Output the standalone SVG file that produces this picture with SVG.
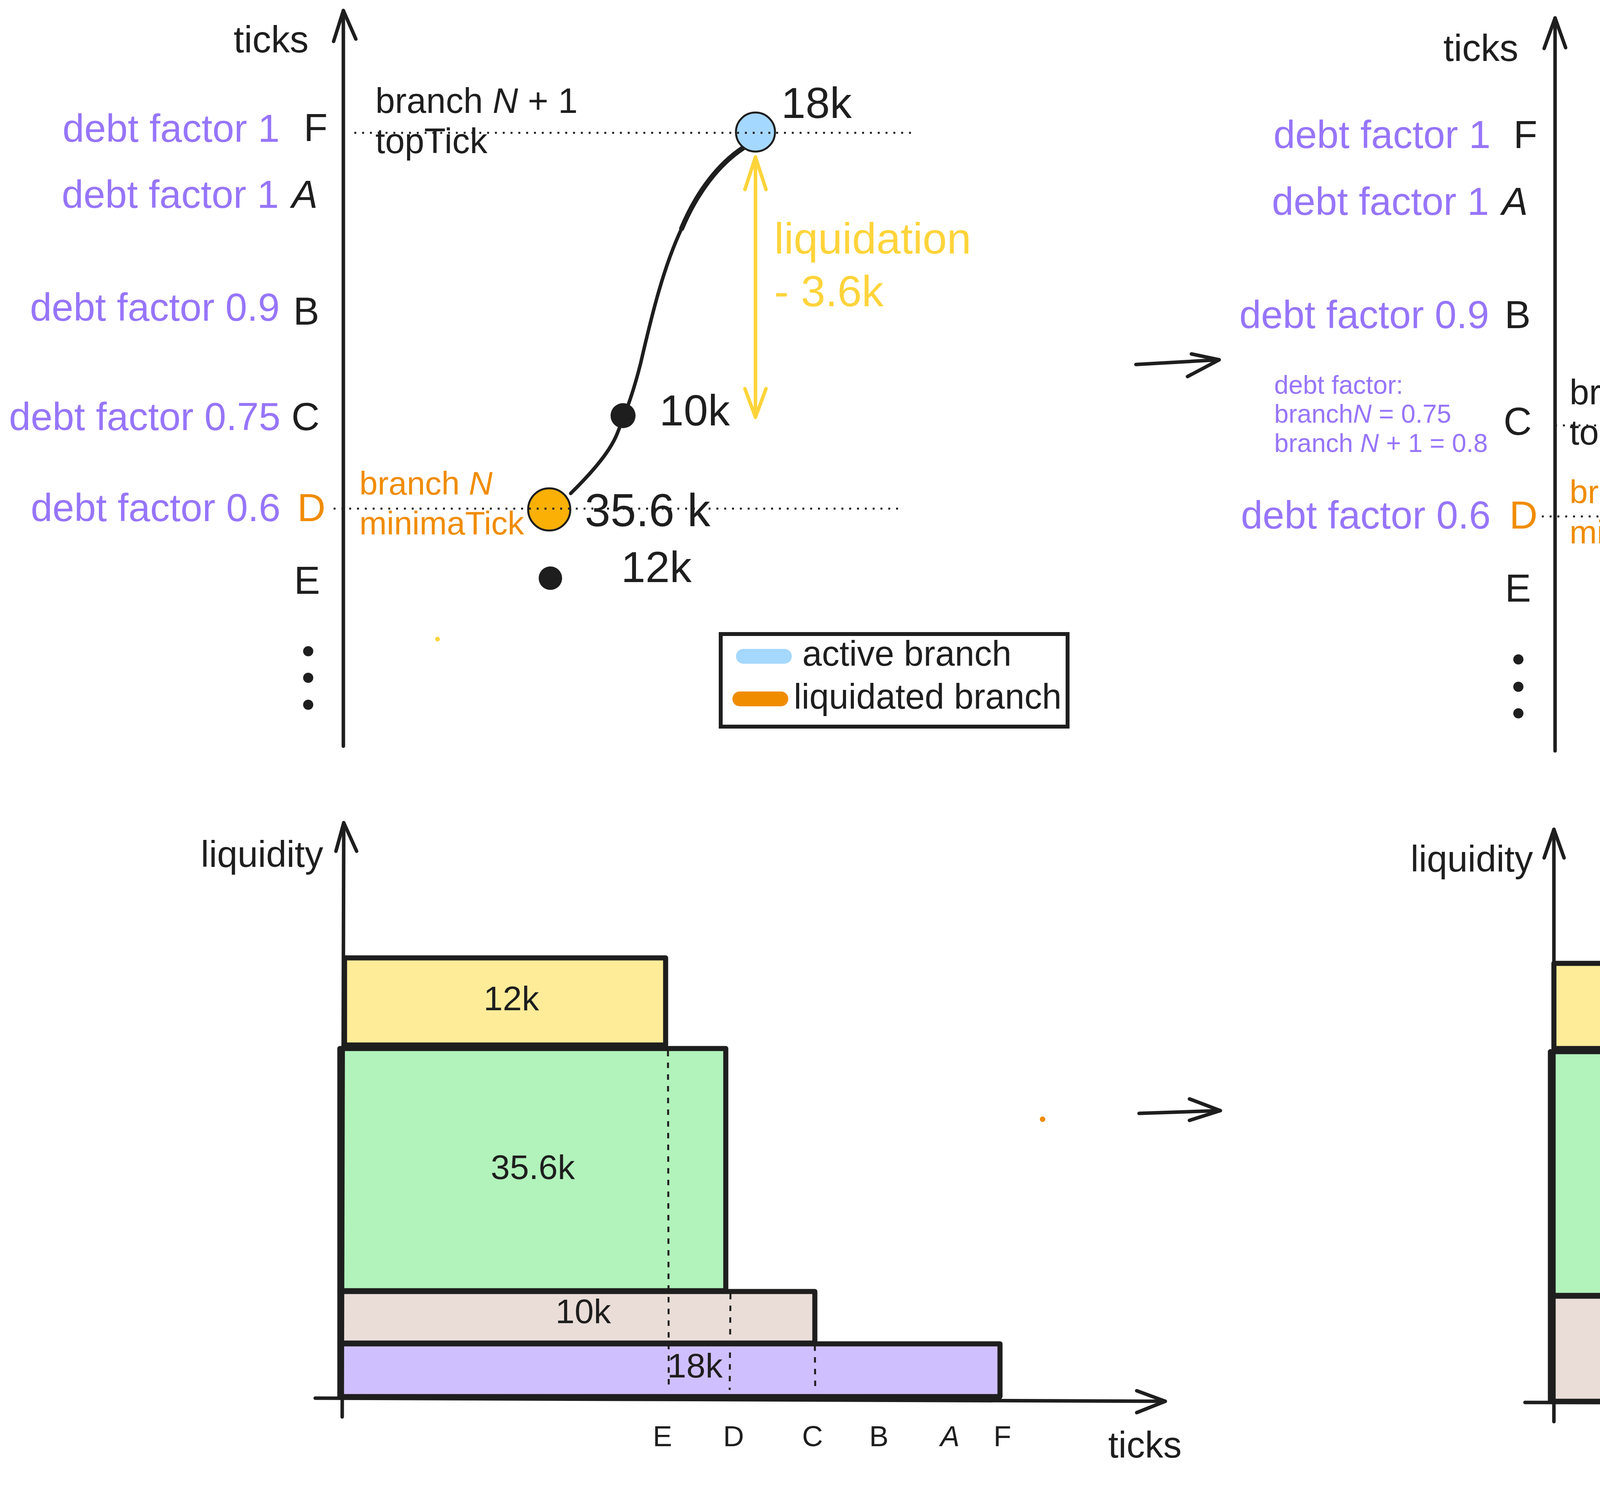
<svg xmlns="http://www.w3.org/2000/svg" width="6160" height="3809" viewBox="0 0 6160 3809">
<style>
text{font-family:"Liberation Sans","DejaVu Sans",sans-serif;fill:#1e1e1e}
.pur{fill:#9775fa}
.org{fill:#f08c00}
.yel{fill:#ffd43b}
.ax{stroke:#1e1e1e;stroke-width:9;fill:none;stroke-linecap:round;stroke-linejoin:round}
.dot{stroke:#1e1e1e;stroke-width:5;stroke-dasharray:5 15;fill:none}
.dash{stroke:#1e1e1e;stroke-width:5;stroke-dasharray:14 16;fill:none}
.box{stroke:#1e1e1e;stroke-width:13;stroke-linejoin:round}
.leg{fill:#fff;stroke:#1e1e1e;stroke-width:10}
.pill{stroke-width:38;stroke-linecap:round}
.nd{stroke:#1e1e1e;stroke-width:5}
.lbl{font-size:100px}
.big{font-size:112px}
.mid{font-size:90px}
.sm{font-size:66px}
.tk{font-size:74px;text-anchor:middle}
.bx{font-size:88px;text-anchor:middle}
</style>
<rect width="6160" height="3809" fill="#fff"/>

<!-- ===== Top-left panel ===== -->
<g id="tl-axis">
<line class="ax" x1="879" y1="1910" x2="879" y2="27"/>
<polyline class="ax" points="854,106 879,27 911,100"/>
<text x="598" y="134" style="font-size:96px">ticks</text>
</g>
<g id="tl-labels">
<text class="lbl pur" x="716" y="363" text-anchor="end">debt factor 1</text>
<text class="lbl pur" x="714" y="532" text-anchor="end">debt factor 1</text>
<text class="lbl pur" x="716" y="821" text-anchor="end">debt factor 0.9</text>
<text class="lbl pur" x="718" y="1101" text-anchor="end">debt factor 0.75</text>
<text class="lbl pur" x="718" y="1334" text-anchor="end">debt factor 0.6</text>
<text class="lbl" x="808" y="361" text-anchor="middle">F</text>
<text class="lbl" x="780" y="532" text-anchor="middle" font-style="italic">A</text>
<text class="lbl" x="784" y="831" text-anchor="middle">B</text>
<text class="lbl" x="782" y="1101" text-anchor="middle">C</text>
<text class="lbl org" x="797" y="1334" text-anchor="middle">D</text>
<text class="lbl" x="786" y="1520" text-anchor="middle">E</text>
<circle cx="789" cy="1667" r="13" fill="#1e1e1e"/>
<circle cx="789" cy="1735" r="13" fill="#1e1e1e"/>
<circle cx="789" cy="1804" r="13" fill="#1e1e1e"/>
</g>
<g id="tl-connectors">
<path class="ax" d="M1461,1263 C1510,1215 1560,1160 1580,1110 C1600,1060 1620,1010 1640,930 C1670,800 1700,680 1745,585 C1785,490 1840,420 1902,379" stroke-width="6"/>
<path d="M1745,585 C1785,490 1840,420 1902,379" fill="none" stroke="#1e1e1e" stroke-width="13" stroke-linecap="round"/>
<line x1="1934" y1="402" x2="1934" y2="1068" stroke="#ffd43b" stroke-width="9" stroke-linecap="round"/>
<polyline points="1907,485 1934,402 1961,485" fill="none" stroke="#ffd43b" stroke-width="9" stroke-linecap="round" stroke-linejoin="round"/>
<polyline points="1907,995 1934,1068 1961,995" fill="none" stroke="#ffd43b" stroke-width="9" stroke-linecap="round" stroke-linejoin="round"/>
</g>
<g id="tl-branch-n1">
<circle class="nd" cx="1934" cy="338" r="50" fill="#a5d8ff"/>
<text class="mid" x="961" y="289">branch <tspan font-style="italic">N</tspan> + 1</text>
<text class="mid" x="961" y="392">topTick</text>
<text class="big" x="2000" y="302">18k</text>
</g>
<g id="tl-c">
<circle cx="1595" cy="1064" r="32" fill="#1e1e1e"/>
<text class="big" x="1688" y="1089">10k</text>
</g>
<g id="tl-branch-n">
<circle class="nd" cx="1406" cy="1304" r="54" fill="#fab005"/>
<text class="org" x="920" y="1266" style="font-size:84px">branch <tspan font-style="italic">N</tspan></text>
<text class="org" x="920" y="1368" style="font-size:84px">minimaTick</text>
<text x="1497" y="1347" style="font-size:118px">35.6 k</text>
</g>
<g id="tl-e">
<circle cx="1409" cy="1480" r="30" fill="#1e1e1e"/>
<text class="big" x="1590" y="1490">12k</text>
</g>
<line class="dot" x1="907" y1="340" x2="2343" y2="340"/>
<line class="dot" x1="854" y1="1302" x2="2313" y2="1302"/>
<g id="tl-liquidation">
<text class="big yel" x="1982" y="649">liquidation</text>
<text class="big yel" x="1982" y="784">- 3.6k</text>
</g>
<circle cx="1120" cy="1636" r="6" fill="#ffd43b"/>
<g id="tl-legend">
<rect class="leg" x="1845" y="1623" width="888" height="237"/>
<line class="pill" x1="1903" y1="1680" x2="2008" y2="1680" stroke="#a5d8ff"/>
<line class="pill" x1="1894" y1="1789" x2="1999" y2="1789" stroke="#f08c00"/>
<text class="mid" x="2054" y="1704">active branch</text>
<text class="mid" x="2032" y="1814">liquidated branch</text>
</g>

<!-- arrows between panels -->
<g id="panel-arrows">
<line class="ax" x1="2908" y1="933" x2="3121" y2="921"/>
<polyline class="ax" points="3050,906 3121,921 3040,964"/>
<line class="ax" x1="2916" y1="2850" x2="3124" y2="2843"/>
<polyline class="ax" points="3045,2813 3124,2843 3045,2868"/>
</g>

<!-- ===== Top-right panel ===== -->
<g id="tr-axis">
<line class="ax" x1="3981" y1="1922" x2="3981" y2="46"/>
<polyline class="ax" points="3953,124 3981,46 4008,122"/>
<text x="3695" y="156" style="font-size:96px">ticks</text>
</g>
<g id="tr-labels">
<text class="lbl pur" x="3816" y="379" text-anchor="end">debt factor 1</text>
<text class="lbl pur" x="3812" y="550" text-anchor="end">debt factor 1</text>
<text class="lbl pur" x="3812" y="840" text-anchor="end">debt factor 0.9</text>
<text class="lbl pur" x="3816" y="1353" text-anchor="end">debt factor 0.6</text>
<text class="sm pur" x="3262" y="1008">debt factor:</text>
<text class="sm pur" x="3262" y="1082">branch<tspan font-style="italic">N</tspan> = 0.75</text>
<text class="sm pur" x="3262" y="1157">branch <tspan font-style="italic">N</tspan> + 1 = 0.8</text>
<text class="lbl" x="3905" y="379" text-anchor="middle">F</text>
<text class="lbl" x="3878" y="550" text-anchor="middle" font-style="italic">A</text>
<text class="lbl" x="3885" y="840" text-anchor="middle">B</text>
<text class="lbl" x="3885" y="1113" text-anchor="middle">C</text>
<text class="lbl org" x="3900" y="1353" text-anchor="middle">D</text>
<text class="lbl" x="3886" y="1540" text-anchor="middle">E</text>
<circle cx="3887" cy="1688" r="13" fill="#1e1e1e"/>
<circle cx="3887" cy="1758" r="13" fill="#1e1e1e"/>
<circle cx="3887" cy="1826" r="13" fill="#1e1e1e"/>
</g>
<g id="tr-connectors">
<path d="M4564,1281 C4588,1235 4598,1180 4622,1152 C4636,1136 4648,1130 4662,1126" fill="none" stroke="#1e1e1e" stroke-width="12" stroke-linecap="round"/>
</g>
<g id="tr-branch-n1">
<circle class="nd" cx="4703" cy="1077" r="56" fill="#a5d8ff"/>
<text class="mid" x="4018" y="1035">branch <tspan font-style="italic">N</tspan> + 1</text>
<text class="mid" x="4018" y="1138">topTick</text>
<text x="4807" y="1060" style="font-size:116px">24.4k</text>
</g>
<g id="tr-branch-n">
<circle class="nd" cx="4503" cy="1325" r="54" fill="#fab005"/>
<text class="org" x="4018" y="1288" style="font-size:84px">branch <tspan font-style="italic">N</tspan></text>
<text class="org" x="4018" y="1391" style="font-size:84px">minimaTick</text>
<text x="4598" y="1366" style="font-size:118px">35.6 k</text>
</g>
<g id="tr-e">
<circle cx="4507" cy="1499" r="30" fill="#1e1e1e"/>
<text class="big" x="4689" y="1511">12k</text>
</g>
<line class="dot" x1="3981" y1="1089" x2="5438" y2="1089"/>
<line class="dot" x1="3947" y1="1322" x2="5418" y2="1322"/>
<circle cx="4219" cy="1655" r="6" fill="#ffd43b"/>
<g id="tr-legend">
<rect class="leg" x="4944" y="1645" width="887" height="231"/>
<line class="pill" x1="5000" y1="1698" x2="5103" y2="1698" stroke="#a5d8ff"/>
<line class="pill" x1="4990" y1="1810" x2="5097" y2="1810" stroke="#f08c00"/>
<text class="mid" x="5152" y="1723">active branch</text>
<text class="mid" x="5132" y="1835">liquidated branch</text>
</g>

<!-- ===== Bottom-left panel ===== -->
<g id="bl-bars">
<rect class="box" x="870" y="3440" width="1690" height="135" fill="#d0bfff"/>
<rect class="box" x="870" y="3306" width="1216" height="132" fill="#eaddd7"/>
<rect class="box" x="870" y="2684" width="988" height="620" fill="#b2f2bb"/>
<rect class="box" x="882" y="2452" width="822" height="223" fill="#ffec99"/>
<text class="bx" x="1309" y="2586">12k</text>
<text class="bx" x="1364" y="3018">35.6k</text>
<text class="bx" x="1493" y="3387">10k</text>
<text class="bx" x="1779" y="3526">18k</text>
</g>
<g id="bl-guides">
<line class="dash" x1="1710" y1="2690" x2="1712" y2="3552"/>
<line class="dash" x1="1870" y1="3312" x2="1868" y2="3558"/>
<line class="dash" x1="2086" y1="3444" x2="2087" y2="3558"/>
</g>
<g id="bl-axis">
<line class="ax" x1="876" y1="3627" x2="880" y2="2106"/>
<polyline class="ax" points="860,2179 880,2106 913,2179"/>
<line class="ax" x1="807" y1="3579" x2="2983" y2="3587"/>
<polyline class="ax" points="2910,3560 2983,3587 2910,3616"/>
<text x="514" y="2219" style="font-size:94px">liquidity</text>
<text x="2837" y="3731" style="font-size:94px">ticks</text>
<text class="tk" x="1696" y="3702">E</text>
<text class="tk" x="1878" y="3702">D</text>
<text class="tk" x="2080" y="3702">C</text>
<text class="tk" x="2250" y="3702">B</text>
<text class="tk" x="2432" y="3702" font-style="italic">A</text>
<text class="tk" x="2566" y="3702">F</text>
</g>
<circle cx="2669" cy="2865" r="7" fill="#f08c00"/>

<!-- ===== Bottom-right panel ===== -->
<g id="br-bars">
<rect class="box" x="3969" y="3318" width="1216" height="269" fill="#eaddd7"/>
<rect class="box" x="3969" y="2692" width="985" height="624" fill="#b2f2bb"/>
<rect class="box" x="3978" y="2466" width="824" height="218" fill="#ffec99"/>
<text class="bx" x="4404" y="2598">12k</text>
<text class="bx" x="4461" y="3027">35.6k</text>
<text class="bx" x="4589" y="3471">24.4k</text>
</g>
<g id="br-guides">
<line class="dash" x1="4800" y1="2690" x2="4808" y2="3569"/>
<line class="dash" x1="4955" y1="3323" x2="4968" y2="3569"/>
</g>
<g id="br-axis">
<line class="ax" x1="3978" y1="3639" x2="3978" y2="2123"/>
<polyline class="ax" points="3953,2196 3978,2123 4004,2196"/>
<line class="ax" x1="3904" y1="3590" x2="6085" y2="3592"/>
<polyline class="ax" points="6008,3567 6085,3592 6008,3621"/>
<text x="3611" y="2231" style="font-size:94px">liquidity</text>
<text x="5934" y="3748" style="font-size:94px">ticks</text>
<text class="tk" x="4790" y="3714">E</text>
<text class="tk" x="4974" y="3714">D</text>
<text class="tk" x="5179" y="3714">C</text>
<text class="tk" x="5349" y="3714">B</text>
<text class="tk" x="5530" y="3714" font-style="italic">A</text>
<text class="tk" x="5661" y="3714">F</text>
</g>
<circle cx="5767" cy="2879" r="7" fill="#f08c00"/>
</svg>
